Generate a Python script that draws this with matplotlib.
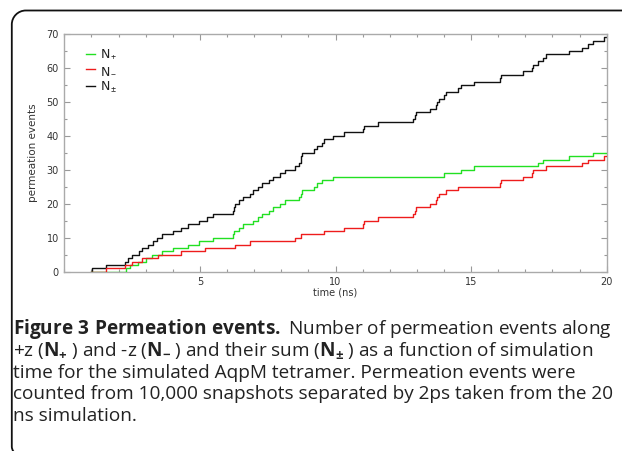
import matplotlib
matplotlib.use('Agg')
import matplotlib.pyplot as plt
from matplotlib.path import Path
from matplotlib.patches import PathPatch
from matplotlib.ticker import MultipleLocator, FixedLocator

# ---------------- data ----------------
green_t = [1.0, 2.27, 2.42, 2.73, 3.03, 3.22, 3.59, 3.99, 4.57, 4.96, 5.49,
           6.21, 6.25, 6.45, 6.60, 6.95, 7.16, 7.28, 7.56, 7.71, 7.95, 8.13,
           8.66, 8.72, 8.78, 9.20, 9.30, 9.51, 9.91, 14.00, 14.62, 15.10,
           17.47, 17.66, 18.61, 19.49, 20.0]
green_n = [0, 1, 2, 3, 4, 5, 6, 7, 8, 9, 10,
           11, 12, 13, 14, 15, 16, 17, 18, 19, 20, 21,
           22, 23, 24, 25, 26, 27, 28, 29, 30, 31,
           32, 33, 34, 35, 35]

red_t = [1.0, 1.54, 2.24, 2.48, 2.85, 3.46, 4.32, 5.18, 6.29, 6.84, 8.50,
         8.72, 9.57, 10.32, 11.00, 11.04, 11.57, 12.86, 12.92, 12.98, 13.48,
         13.69, 13.75, 13.81, 14.09, 14.52, 16.06, 16.12, 16.90, 17.24, 17.28,
         17.75, 19.10, 19.31, 19.89, 20.0]
red_n = [0, 1, 2, 3, 4, 5, 6, 7, 8, 9, 10,
         11, 12, 13, 14, 15, 16, 17, 18, 19, 20,
         21, 22, 23, 24, 25, 26, 27, 28, 29, 30,
         31, 32, 33, 34, 34]

black_t = [1.0, 1.02, 1.54, 2.24, 2.36, 2.48, 2.76, 2.85, 3.10, 3.28, 3.43,
           3.61, 3.99, 4.32, 4.57, 4.96, 5.25, 5.49, 6.21, 6.25, 6.29,
           6.45, 6.60, 6.84, 6.95, 7.16, 7.28, 7.56, 7.71, 7.95, 8.13,
           8.50, 8.66, 8.72, 8.74, 8.78, 9.20, 9.30, 9.51, 9.57, 9.91,
           10.32, 11.00, 11.04, 11.57, 12.86, 12.92, 12.98, 13.48, 13.69, 13.75,
           13.81, 14.00, 14.09, 14.52, 14.62, 15.10, 16.06, 16.12, 16.90, 17.24,
           17.28, 17.47, 17.66, 17.75, 18.61, 19.10, 19.31, 19.49, 19.89, 20.0]
black_n = [0, 1, 2, 3, 4, 5, 6, 7, 8, 9, 10,
           11, 12, 13, 14, 15, 16, 17, 18, 19, 20,
           21, 22, 23, 24, 25, 26, 27, 28, 29, 30,
           31, 32, 33, 34, 35, 36, 37, 38, 39, 40,
           41, 42, 43, 44, 45, 46, 47, 48, 49, 50,
           51, 52, 53, 54, 55, 56, 57, 58, 59, 60,
           61, 62, 63, 64, 65, 66, 67, 68, 69, 69]

series_labels = [r'N$_+$', r'N$_-$', r'N$_\pm$']
x_ticks = [5, 10, 15, 20]
y_ticks = [0, 10, 20, 30, 40, 50, 60, 70]
x_label = 'time (ns)'
y_label = 'permeation events'

caption_lines = [
    r'$\mathbf{Figure\ 3\ Permeation\ events.}$ Number of permeation events along',
    r'+z ($\mathbf{N}_{\mathbf{+}}\;$) and -z ($\mathbf{N}_{\mathbf{-}}\;$) and their sum ($\mathbf{N}_{\mathbf{\pm}}\;$) as a function of simulation',
    'time for the simulated AqpM tetramer. Permeation events were',
    'counted from 10,000 snapshots separated by 2ps taken from the 20',
    'ns simulation.',
]

# ---------------- figure ----------------
plt.rcParams['mathtext.fontset'] = 'custom'
plt.rcParams['mathtext.rm'] = 'Open Sans'
plt.rcParams['mathtext.bf'] = 'Open Sans:bold'
plt.rcParams['mathtext.it'] = 'Open Sans:italic'
plt.rcParams['mathtext.sf'] = 'Open Sans'

W, H = 622, 451
fig = plt.figure(figsize=(W / 100, H / 100), dpi=100)
fig.patch.set_facecolor('white')


def fx(x):
    return x / W


def fy(y):
    return 1 - y / H


L, R, T, B = 64.3, 606.7, 34.0, 271.7
ax = fig.add_axes([fx(L), fy(B), (R - L) / W, (B - T) / H])

ax.plot(green_t, green_n, drawstyle='steps-post', color='#22e022', lw=1.0,
        label=series_labels[0], zorder=3)
ax.plot(red_t, red_n, drawstyle='steps-post', color='#ee1c1c', lw=1.0,
        label=series_labels[1], zorder=4)
ax.plot(black_t, black_n, drawstyle='steps-post', color='#111111', lw=1.0,
        label=series_labels[2], zorder=2)

ax.set_xlim(0, 20)
ax.set_ylim(0, 70)
ax.xaxis.set_major_locator(FixedLocator(x_ticks))
ax.xaxis.set_minor_locator(MultipleLocator(1))
ax.yaxis.set_major_locator(FixedLocator(y_ticks))
ax.yaxis.set_minor_locator(MultipleLocator(5))

for s in ax.spines.values():
    s.set_color('#aaaaaa')
    s.set_linewidth(1.0)

ax.tick_params(which='both', direction='in', top=True, right=True,
               color='#999999', width=0.8)
ax.tick_params(which='major', length=4, labelsize=7, labelcolor='#333333',
               pad=4)
ax.tick_params(which='minor', length=2.2)

ax.set_xlabel(x_label, fontsize=7, color='#333333')
ax.set_ylabel(y_label, fontsize=7.5, color='#333333')
ax.xaxis.set_label_coords(0.5, -(287.5 - B) / (B - T))
ax.yaxis.set_label_coords((38 - L) / (R - L), 0.5)

leg = ax.legend(loc='upper left',
                bbox_to_anchor=((86 - L) / (R - L), (B - 48) / (B - T)),
                frameon=False, fontsize=9, handlelength=0.7,
                handletextpad=0.45, labelspacing=0.22, borderaxespad=0,
                borderpad=0)
for txt in leg.get_texts():
    txt.set_color('#222222')

# ---------------- caption ----------------
baselines = [334.3, 356.0, 377.7, 399.3, 421.0]
for line, yb in zip(caption_lines, baselines):
    fig.text(fx(12.7), fy(yb), line, fontsize=13.7, family='Open Sans',
             color='#222222', ha='left', va='baseline')

# ---------------- frame ----------------
r = 14.0
k = 0.552 * r
xl, yt = 11.8, 10.5
verts = [(630, yt), (xl + r, yt),
         (xl + r - k, yt), (xl, yt + r - k), (xl, yt + r),
         (xl, 446.5),
         (xl, 449.5), (13.5, 451.5)]
codes = [Path.MOVETO, Path.LINETO,
         Path.CURVE4, Path.CURVE4, Path.CURVE4,
         Path.LINETO,
         Path.CURVE3, Path.CURVE3]
verts_f = [(fx(x), fy(y)) for x, y in verts]
frame = PathPatch(Path(verts_f, codes), transform=fig.transFigure,
                  facecolor='none', edgecolor='#111111', lw=1.3,
                  clip_on=False)
fig.patches.append(frame)

fig.savefig('out.png', dpi=100, facecolor='white')
